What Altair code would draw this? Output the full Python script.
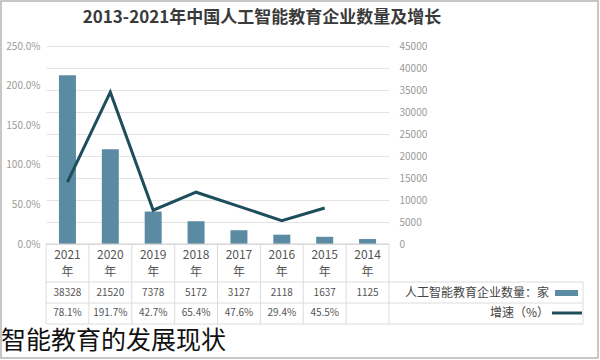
import altair as alt
import pandas as pd

# ---- data ----
years = ["2021", "2020", "2019", "2018", "2017", "2016", "2015", "2014"]
counts = [38328, 21520, 7378, 5172, 3127, 2118, 1637, 1125]
growth = [78.1, 191.7, 42.7, 65.4, 47.6, 29.4, 45.5, None]
growth_text = ["78.1%", "191.7%", "42.7%", "65.4%", "47.6%", "29.4%", "45.5%", ""]
count_ticks = list(range(0, 45001, 5000))
pct_ticks = [0, 50, 100, 150, 200, 250]

title_text = "2013-2021年中国人工智能教育企业数量及增长"
caption_text = "智能教育的发展现状"
legend_bar = "人工智能教育企业数量：家"
legend_line = "增速（%）"

FONT = "Noto Sans CJK SC"
BAR = "#5b8ba3"
LINE = "#1e4d5c"
GRID = "#e3e3e3"

df = pd.DataFrame({
    "year": years,
    "count": counts,
    "growth": growth,
    "gtext": growth_text,
    "ylab": [y for y in years],
    "nian": ["年"] * len(years),
})
df["ctext"] = df["count"].astype(str)

one = pd.DataFrame({"a": [0]})

W, H = 343, 198

xenc = alt.X("year:N", sort=years,
             scale=alt.Scale(paddingInner=0, paddingOuter=0), axis=None)

base = alt.Chart(df).encode(x=xenc)

bars = base.mark_bar(size=17, color=BAR).encode(
    y=alt.Y("count:Q",
            scale=alt.Scale(domain=[0, 45000], nice=False),
            axis=alt.Axis(orient="right", values=count_ticks, grid=True,
                          gridColor=GRID, domain=False, ticks=False,
                          format="d",
                          labelColor="#9a9a9a", labelFontSize=10,
                          labelPadding=10, labelFont=FONT, title=None))
)

line = base.transform_filter("datum.growth != null").mark_line(
    color=LINE, strokeWidth=3).encode(
    y=alt.Y("growth:Q",
            scale=alt.Scale(domain=[0, 250], nice=False),
            axis=alt.Axis(orient="left", values=pct_ticks, grid=False,
                          domain=False, ticks=False,
                          labelExpr="format(datum.value, '.1f') + '%'",
                          labelColor="#9a9a9a", labelFontSize=10,
                          labelPadding=6, labelFont=FONT, title=None))
)

txt_style = dict(font=FONT, color="#555555", align="center", baseline="middle")
year_txt = base.mark_text(fontSize=12, **txt_style).encode(
    text="ylab:N", y=alt.value(209))
nian_txt = base.mark_text(fontSize=12, **txt_style).encode(
    text="nian:N", y=alt.value(226))
count_txt = base.mark_text(fontSize=10, **txt_style).encode(
    text="ctext:N", y=alt.value(247))
growth_txt = base.mark_text(fontSize=10, **txt_style).encode(
    text="gtext:N", y=alt.value(267))

# table grid
vlines = alt.Chart(df).mark_rule(color="#dcdcdc", strokeWidth=1).encode(
    x=alt.X("year:N", sort=years, bandPosition=0,
            scale=alt.Scale(paddingInner=0, paddingOuter=0), axis=None),
    y=alt.value(198), y2=alt.value(278))
vend = alt.Chart(one).mark_rule(color="#dcdcdc").encode(
    x=alt.value(W), y=alt.value(198), y2=alt.value(278))
vleg = alt.Chart(one).mark_rule(color="#dcdcdc").encode(
    x=alt.value(537), y=alt.value(236), y2=alt.value(278))
h1 = alt.Chart(one).mark_rule(color="#dcdcdc").encode(
    x=alt.value(0), x2=alt.value(537), y=alt.value(236))
h2 = alt.Chart(one).mark_rule(color="#dcdcdc").encode(
    x=alt.value(0), x2=alt.value(537), y=alt.value(257))
h3 = alt.Chart(one).mark_rule(color="#dcdcdc").encode(
    x=alt.value(0), x2=alt.value(537), y=alt.value(278))
h0 = alt.Chart(one).mark_rule(color="#d0d0d0").encode(
    x=alt.value(0), x2=alt.value(W), y=alt.value(198))

# legend inside table
leg_bar_sw = alt.Chart(one).mark_rect(color=BAR).encode(
    x=alt.value(509), x2=alt.value(532), y=alt.value(244), y2=alt.value(250))
leg_line_sw = alt.Chart(one).mark_rule(color=LINE, strokeWidth=3).encode(
    x=alt.value(506), x2=alt.value(536), y=alt.value(267))
leg_t1 = alt.Chart(one).mark_text(font=FONT, fontSize=12, color="#444444",
                                  align="right", baseline="middle",
                                  text=legend_bar).encode(
    x=alt.value(503), y=alt.value(247))
leg_t2 = alt.Chart(one).mark_text(font=FONT, fontSize=12, color="#444444",
                                  align="right", baseline="middle",
                                  text=legend_line).encode(
    x=alt.value(503), y=alt.value(267))

title = alt.Chart(one).mark_text(font=FONT, fontSize=17, fontWeight="bold",
                                 color="#3a3a3a", align="center",
                                 baseline="middle", text=title_text).encode(
    x=alt.value(216), y=alt.value(-28))

caption = alt.Chart(one).mark_text(font=FONT, fontSize=25, color="#111111",
                                   align="left", baseline="middle",
                                   text=caption_text).encode(
    x=alt.value(-45), y=alt.value(295))

frame = alt.Chart(one).mark_rect(fill="transparent", stroke="#b5b5b5",
                                 strokeWidth=1.5).encode(
    x=alt.value(-45), x2=alt.value(552), y=alt.value(-45), y2=alt.value(312))

chart = alt.layer(
    frame, bars, line, h0, vlines, vend, vleg, h1, h2, h3,
    year_txt, nian_txt, count_txt, growth_txt,
    leg_bar_sw, leg_line_sw, leg_t1, leg_t2, title, caption
).resolve_scale(y="independent").properties(
    width=W, height=H,
    autosize=alt.AutoSizeParams(type="none"),
    padding={"left": 46, "top": 46, "right": 600 - 46 - W, "bottom": 360 - 46 - H},
    background="white",
).configure_view(stroke=None)

chart.save("out.html", embed_options={"renderer": "svg", "actions": False})
